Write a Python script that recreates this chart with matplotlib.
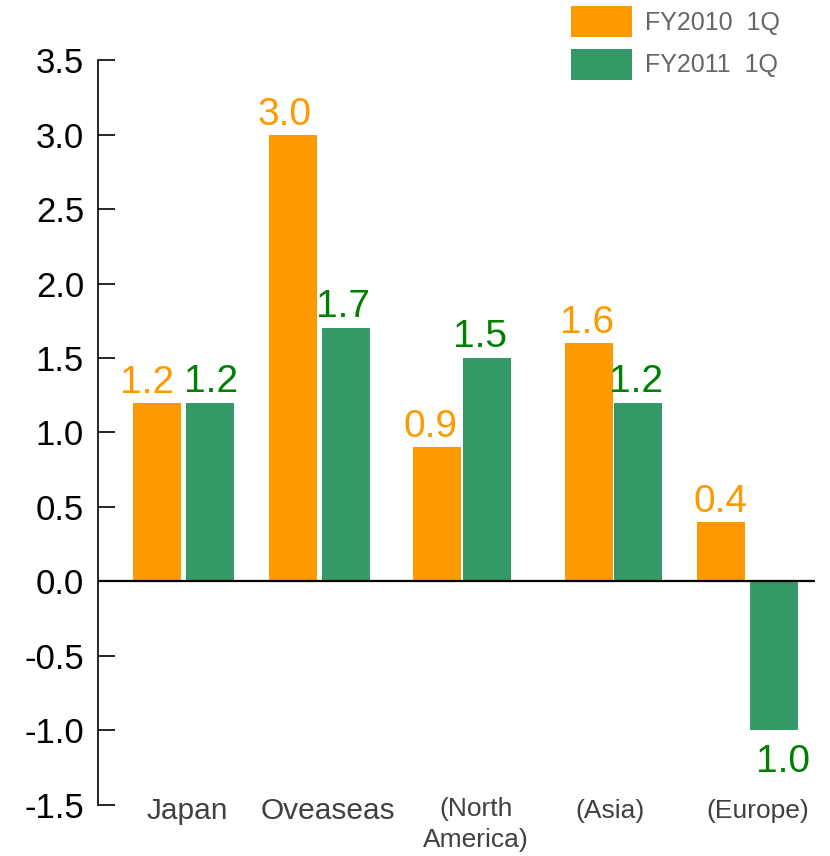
import matplotlib
matplotlib.use("Agg")
import matplotlib.pyplot as plt
from matplotlib.patches import Patch

plt.rcParams['font.family'] = ['Liberation Sans', 'DejaVu Sans']

# ---- data ----
categories = ["Japan", "Oveaseas", "(North\nAmerica)", "(Asia)", "(Europe)"]
series_names = ["FY2010  1Q", "FY2011  1Q"]
fy2010 = [1.2, 3.0, 0.9, 1.6, 0.4]
fy2011 = [1.2, 1.7, 1.5, 1.2, -1.0]
label_fy2010 = ["1.2", "3.0", "0.9", "1.6", "0.4"]
label_fy2011 = ["1.2", "1.7", "1.5", "1.2", "1.0"]
yticks = [-1.5, -1.0, -0.5, 0.0, 0.5, 1.0, 1.5, 2.0, 2.5, 3.0, 3.5]

# ---- layout (x in pixel-like units of the axis) ----
group_centers = [183.5, 319.25, 462, 613.5, 747.5]
bar_offsets = [26.5, 26.75, 25, 24.5, 26.5]
bar_width = 48
cat_label_x = [187.5, 327.5, 476, 610, 757.5]
cat_font = [21.5, 21.5, 19, 19, 19]
lab_dx_2010 = [-10, -8, -7, -2, -1]
lab_dx_2011 = [1, -3, -7, -2, 9]

c_orange = "#FF9900"
c_green = "#339966"
t_orange = "#FF9900"
t_green = "#008000"

fig = plt.figure(figsize=(8.3, 8.56), dpi=100)
W, H = 830, 856
ax = fig.add_axes([98 / W, 1 - 804.5 / H, (815 - 98) / W, (804.5 - 60.5) / H])
ax.set_xlim(98, 815)
ax.set_ylim(-1.5, 3.5)

x1 = [c - o for c, o in zip(group_centers, bar_offsets)]
x2 = [c + o for c, o in zip(group_centers, bar_offsets)]
ax.bar(x1, fy2010, width=bar_width, color=c_orange, zorder=2)
ax.bar(x2, fy2011, width=bar_width, color=c_green, zorder=2)

ax.axhline(0, color="black", lw=1.6, zorder=3)

# value labels
ppu = 744 / 5.0  # pixels per unit
for x, v, s, dx in zip(x1, fy2010, label_fy2010, lab_dx_2010):
    ax.text(x + dx, v + 10 / ppu, s, ha="center", va="baseline",
            fontsize=28, color=t_orange, zorder=4)
for x, v, s, dx in zip(x2, fy2011, label_fy2011, lab_dx_2011):
    if v >= 0:
        ax.text(x + dx, v + 11 / ppu, s, ha="center", va="baseline",
                fontsize=28, color=t_green, zorder=4)
    else:
        ax.text(x + dx, v - 14 / ppu, s, ha="center", va="top",
                fontsize=28, color=t_green, zorder=4)

# category labels
for x, s, fs in zip(cat_label_x, categories, cat_font):
    if "\n" in s:
        ax.text(x, (581 - 797) / ppu, s, ha="center", va="top",
                fontsize=fs, color="#404040", clip_on=False, linespacing=1.35)
    else:
        ax.text(x, (581 - 811) / ppu, s, ha="center", va="center",
                fontsize=fs, color="#404040", clip_on=False)

# axes styling
for sp in ["top", "right", "bottom"]:
    ax.spines[sp].set_visible(False)
ax.spines["left"].set_linewidth(1.2)
ax.set_xticks([])
ax.set_yticks(yticks)
ax.set_yticklabels([f"{t:.1f}" for t in yticks])
ax.tick_params(axis="y", direction="in", length=12, width=1.2, pad=10,
               labelsize=25, labelcolor="black")

# legend
handles = [Patch(facecolor=c_orange, edgecolor="none"),
           Patch(facecolor=c_green, edgecolor="none")]
leg = fig.legend(handles, series_names, loc="upper left",
                 bbox_to_anchor=(571 / W, 1 - 6 / H), bbox_transform=fig.transFigure,
                 frameon=False, fontsize=18, handlelength=2.44, handleheight=1.53,
                 handletextpad=0.5, labelspacing=0.47, borderpad=0, borderaxespad=0)
for t in leg.get_texts():
    t.set_color("#666666")

fig.savefig("out.png", dpi=100)
